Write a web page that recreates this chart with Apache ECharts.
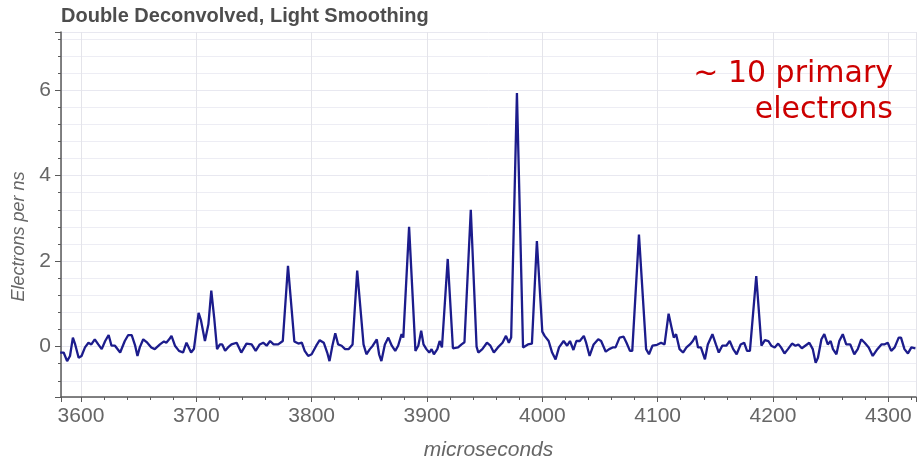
<!DOCTYPE html>
<html>
<head>
<meta charset="utf-8">
<script src="https://cdn.jsdelivr.net/npm/echarts@6/dist/echarts.min.js"></script>
<style type="text/css">
html,body{margin:0;padding:0;background:#fff;}
#chart{width:921px;height:463px;}
</style>
</head>
<body>
<div id="chart"></div>
<script type="text/javascript">
// time axis (microseconds) and signal (electrons per ns)
var times = [
  3582, 3585, 3588, 3590.5, 3593, 3595, 3598, 3600.5, 3603.5, 3606.5, 3609, 3612, 3615, 3618, 3621, 3624,
  3626.5, 3629.5, 3634, 3638, 3641, 3644, 3647, 3649, 3651, 3654, 3657.5, 3661, 3664, 3668.5, 3672, 3674,
  3676.5, 3678.5, 3681.5, 3685, 3688.5, 3691.5, 3693, 3695.5, 3698, 3702, 3704, 3707.5, 3710.5, 3713, 3715.5,
  3718, 3720.5, 3722.5, 3725, 3727.5, 3730.5, 3732, 3735, 3739, 3743.5, 3748, 3751.5, 3755, 3758, 3761, 3764,
  3767, 3771, 3775, 3779.5, 3785, 3788.5, 3791.5, 3794, 3797, 3800, 3804, 3807, 3810.5, 3813.5, 3815.5, 3818,
  3820.5, 3823, 3826, 3829, 3832, 3835.5, 3839.5, 3845, 3847.5, 3850.5, 3853, 3856.5, 3858.5, 3860.5, 3863.5,
  3866.5, 3869.5, 3872.5, 3875, 3878, 3879.5, 3884.5, 3890, 3892.5, 3895, 3897, 3899.5, 3902, 3904, 3906, 3909,
  3911, 3913, 3918, 3922.5, 3927, 3930, 3932.5, 3938, 3943, 3944.5, 3948, 3952, 3955, 3958, 3961.5, 3965.5,
  3968.5, 3971, 3973, 3978, 3983.3, 3987.5, 3991, 3995.3, 4000, 4002, 4005.5, 4008.5, 4011.5, 4014.5, 4018.5,
  4021.5, 4024, 4027, 4029.5, 4032.5, 4036, 4038, 4041, 4044.5, 4048.5, 4051, 4055, 4058, 4061, 4063.5, 4067,
  4070.5, 4073, 4076, 4078, 4083.8, 4090, 4092.5, 4095.5, 4099.5, 4103, 4106, 4109.5, 4112, 4114, 4116, 4119,
  4122, 4125, 4128, 4130.5, 4133, 4135, 4137.5, 4141, 4143.5, 4147.5, 4150.5, 4153, 4156, 4159.5, 4162.5,
  4165.5, 4168.5, 4172, 4175, 4177.5, 4180, 4185.5, 4190, 4193, 4196, 4198.5, 4201.5, 4204.5, 4207, 4210,
  4213, 4216.5, 4219.5, 4222, 4225, 4228, 4231.5, 4234.5, 4237, 4239, 4242, 4244.5, 4247.5, 4250, 4252, 4255,
  4257.5, 4260.5, 4263.5, 4267, 4270.5, 4273.5, 4276.5, 4279.5, 4283, 4286.5, 4290.5, 4294, 4296.5, 4299.5,
  4302.5, 4305.5, 4309, 4311, 4314, 4317, 4320, 4323.5
];
var electrons = [
  -0.14, -0.14, -0.34, -0.22, 0.21, 0.05, -0.26, -0.22, -0.02, 0.09, 0.05, 0.17, 0.05, -0.06, 0.13, 0.27,
  0.02, 0.02, -0.14, 0.13, 0.27, 0.27, 0.02, -0.22, -0.02, 0.17, 0.09, -0.02, -0.06, 0.05, 0.12, 0.09,
  0.17, 0.25, 0.02, -0.10, -0.14, 0.09, 0.13, -0.14, -0.05, 0.79, 0.62, 0.13, 0.52, 1.31, 0.68,
  -0.06, 0.05, 0.05, -0.10, -0.02, 0.05, 0.02, 0.09, -0.14, 0.07, 0.05, -0.10, 0.05, 0.09, 0.02, 0.13,
  0.05, 0.05, 0.13, 1.89, 0.12, 0.07, 0.09, -0.10, -0.22, -0.18, 0.02, 0.15, 0.09, -0.14, -0.34, 0.02,
  0.31, 0.05, 0.02, -0.06, -0.06, 0.05, 1.78, 0.05, -0.18, -0.06, 0.02, 0.17, -0.18, -0.34, 0.05,
  0.21, 0.02, -0.10, 0.02, 0.29, 0.21, 2.80, -0.10, 0.02, 0.37, 0.05, -0.06, -0.14, -0.06, -0.18, -0.06,
  0.13, -0.02, 2.05, -0.04, -0.02, 0.05, 0.10, 3.20, 0.00, -0.14, -0.06, 0.09, 0.02, -0.14, -0.02, 0.09,
  0.25, 0.09, 0.21, 5.93, -0.02, 0.05, 0.07, 2.47, 0.35, 0.25, 0.13, -0.14, -0.30, -0.02, 0.13,
  0.02, 0.13, -0.08, 0.13, 0.13, 0.25, 0.09, -0.22, 0.05, 0.17, 0.13, -0.12, -0.06, -0.02, -0.02, 0.21,
  0.23, 0.09, -0.10, -0.10, 2.62, -0.06, -0.18, 0.02, 0.04, 0.09, 0.05, 0.77, 0.45, 0.21, 0.29, -0.06,
  -0.14, -0.02, 0.05, 0.13, 0.25, -0.02, -0.02, -0.30, 0.05, 0.29, 0.05, -0.14, 0.02, 0.02, 0.13,
  -0.06, -0.18, 0.05, 0.09, -0.10, -0.10, 1.65, 0.02, 0.15, 0.13, 0.02, -0.02, 0.07, -0.02, -0.16,
  -0.06, 0.07, 0.02, 0.05, -0.04, 0.02, 0.09, -0.06, -0.38, -0.26, 0.17, 0.29, 0.05, 0.13, -0.06, -0.18,
  0.13, 0.29, 0.05, 0.05, -0.18, -0.06, 0.17, 0.09, -0.02, -0.22, -0.06, 0.05, 0.05, 0.09,
  -0.10, -0.02, 0.21, 0.21, -0.06, -0.16, -0.02, -0.04
];
var noteLines = ['~ 10 primary', 'electrons'];

var signal = [];
for (var i = 0; i < times.length; i++) {
  signal.push([times[i], electrons[i]]);
}

var grey = '#666';
var note = noteLines.map(function (t, k) {
  return {
    type: 'text',
    right: 28,
    top: 59 + k * 36,
    z: 100,
    style: {text: t, fontFamily: 'DejaVu Sans', fontSize: 30, fill: '#cc0000'}
  };
});

var chart = echarts.init(document.getElementById('chart'));
var option = {
  backgroundColor: '#fff',
  animation: false,
  title: {
    text: 'Double Deconvolved, Light Smoothing',
    left: 61,
    top: 6,
    padding: 0,
    textStyle: {fontFamily: 'Liberation Sans', fontSize: 20, fontWeight: 'bold', color: '#4d4d4d'}
  },
  graphic: note,
  grid: {left: 61, right: 5, top: 32, bottom: 66, outerBoundsMode: 'none', containLabel: false},
  xAxis: {
    type: 'value',
    min: 3582.7,
    max: 4324,
    splitNumber: 6,
    name: 'microseconds',
    nameLocation: 'middle',
    nameGap: 43,
    nameTextStyle: {fontFamily: 'Liberation Sans', fontSize: 21, fontStyle: 'italic', color: grey},
    axisLine: {onZero: false, lineStyle: {color: '#5a5a5a', width: 1.5}},
    axisTick: {show: true, length: 5, lineStyle: {color: '#5a5a5a'}},
    minorTick: {show: true, splitNumber: 5, length: 3, lineStyle: {color: '#5a5a5a'}},
    axisLabel: {
      showMinLabel: false, showMaxLabel: false, margin: 9,
      fontFamily: 'Liberation Sans', fontSize: 21, color: grey,
      formatter: function (v) { return String(v); }
    },
    splitLine: {show: true, lineStyle: {color: '#e4e4ea', width: 1}}
  },
  yAxis: {
    type: 'value',
    min: -1.18,
    max: 7.36,
    splitNumber: 4,
    name: 'Electrons per ns',
    nameLocation: 'middle',
    nameGap: 31,
    nameTextStyle: {fontFamily: 'Liberation Sans', fontSize: 18, fontStyle: 'italic', color: grey, padding: [0, 44, 0, 0]},
    axisLine: {show: true, lineStyle: {color: '#5a5a5a', width: 1.5}},
    axisTick: {show: true, length: 6, lineStyle: {color: '#5a5a5a'}},
    minorTick: {show: true, splitNumber: 5, length: 3, lineStyle: {color: '#5a5a5a'}},
    axisLabel: {showMinLabel: false, showMaxLabel: false, margin: 10, fontFamily: 'Liberation Sans', fontSize: 21, color: grey},
    splitLine: {show: true, lineStyle: {color: '#e8e8f0', width: 1}},
    minorSplitLine: {show: true, lineStyle: {color: '#ededf4', width: 1}}
  },
  series: [{
    type: 'line',
    data: signal,
    showSymbol: false,
    lineStyle: {color: '#1c1c8c', width: 2.3},
    itemStyle: {color: '#1c1c8c'}
  }]
};
chart.setOption(option);
window.onresize = chart.resize;
</script>
</body>
</html>
